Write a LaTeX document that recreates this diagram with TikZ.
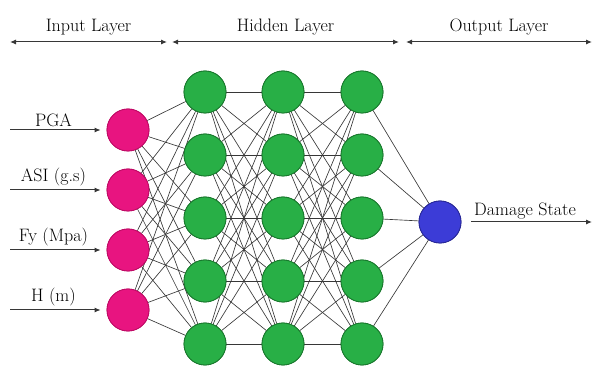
\documentclass[tikz,border=0pt]{standalone}
\usetikzlibrary{arrows.meta}

\definecolor{inpink}{RGB}{232,20,128}
\definecolor{inpinkdark}{RGB}{190,10,100}
\definecolor{hidgreen}{RGB}{40,175,70}
\definecolor{hidgreendark}{RGB}{25,120,45}
\definecolor{outblue}{RGB}{60,60,215}
\definecolor{outbluedark}{RGB}{40,40,150}
\definecolor{wire}{RGB}{55,55,55}

\begin{document}
\begin{tikzpicture}[x=1pt,y=-1pt,
  font=\rmfamily\fontsize{18}{21}\selectfont,
  neuron/.style={circle, minimum size=42pt, inner sep=0pt, line width=0.8pt},
  inneuron/.style={neuron, fill=inpink, draw=inpinkdark},
  hidneuron/.style={neuron, fill=hidgreen, draw=hidgreendark},
  outneuron/.style={neuron, fill=outblue, draw=outbluedark},
  link/.style={draw=wire, line width=0.65pt},
  feed/.style={draw=wire, line width=1pt, -{Latex[length=6pt,width=5pt]}},
  span/.style={draw=wire, line width=1pt, {Latex[length=6pt,width=5pt]}-{Latex[length=6pt,width=5pt]}},
  lbl/.style={inner sep=1pt}]
\useasboundingbox (0,0) rectangle (595,374);

% layer headings
\coordinate (a0) at (10,42);
\coordinate (a1) at (167,42);
\coordinate (b0) at (172,42);
\coordinate (b1) at (399,42);
\coordinate (c0) at (406,42);
\coordinate (c1) at (592,42);
\draw[span] (a0) -- (a1) node[midway, above=5pt, lbl] (tin) {Input Layer};
\draw[span] (b0) -- (b1) node[midway, above=5pt, lbl] (thid) {Hidden Layer};
\draw[span] (c0) -- (c1) node[midway, above=5pt, lbl] (tout) {Output Layer};

% input neurons
\foreach \r/\y in {1/130,2/190,3/250,4/310}
  \node[inneuron] (i\r) at (128,\y) {};

% hidden neurons: three columns of five
\foreach \c/\x in {1/205,2/283,3/362}
  \foreach \r/\y in {1/92,2/155,3/218,4/281,5/344}
    \node[hidneuron] (h\c\r) at (\x,\y) {};

% output neuron
\node[outneuron] (o) at (440,222) {};

% connections
\foreach \a in {1,...,4}
  \foreach \b in {1,...,5}
    \draw[link] (i\a) -- (h1\b);
\foreach \a in {1,...,5}
  \foreach \b in {1,...,5}
  {
    \draw[link] (h1\a) -- (h2\b);
    \draw[link] (h2\a) -- (h3\b);
  }
\foreach \a in {1,...,5}
  \draw[link] (h3\a) -- (o);

% redraw neurons over the wires
\foreach \r/\y in {1/130,2/190,3/250,4/310}
  \node[inneuron] at (128,\y) {};
\foreach \c/\x in {1/205,2/283,3/362}
  \foreach \r/\y in {1/92,2/155,3/218,4/281,5/344}
    \node[hidneuron] at (\x,\y) {};
\node[outneuron] at (440,222) {};

% input features
\foreach \r/\y/\t in {1/130/PGA, 2/190/ASI (g.s), 3/250/Fy (Mpa), 4/310/H (m)}
{
  \coordinate (s\r) at (10,\y);
  \draw[feed, shorten >=6pt] (s\r) -- (i\r)
    node[pos=0.45, above=2pt, lbl] (l\r) {\t};
}

% output
\coordinate (e) at (592,222);
\draw[feed, shorten <=10pt] (o) -- (e);
\node[lbl, anchor=south] (lo) at (525,220) {Damage State};
\end{tikzpicture}
\end{document}
